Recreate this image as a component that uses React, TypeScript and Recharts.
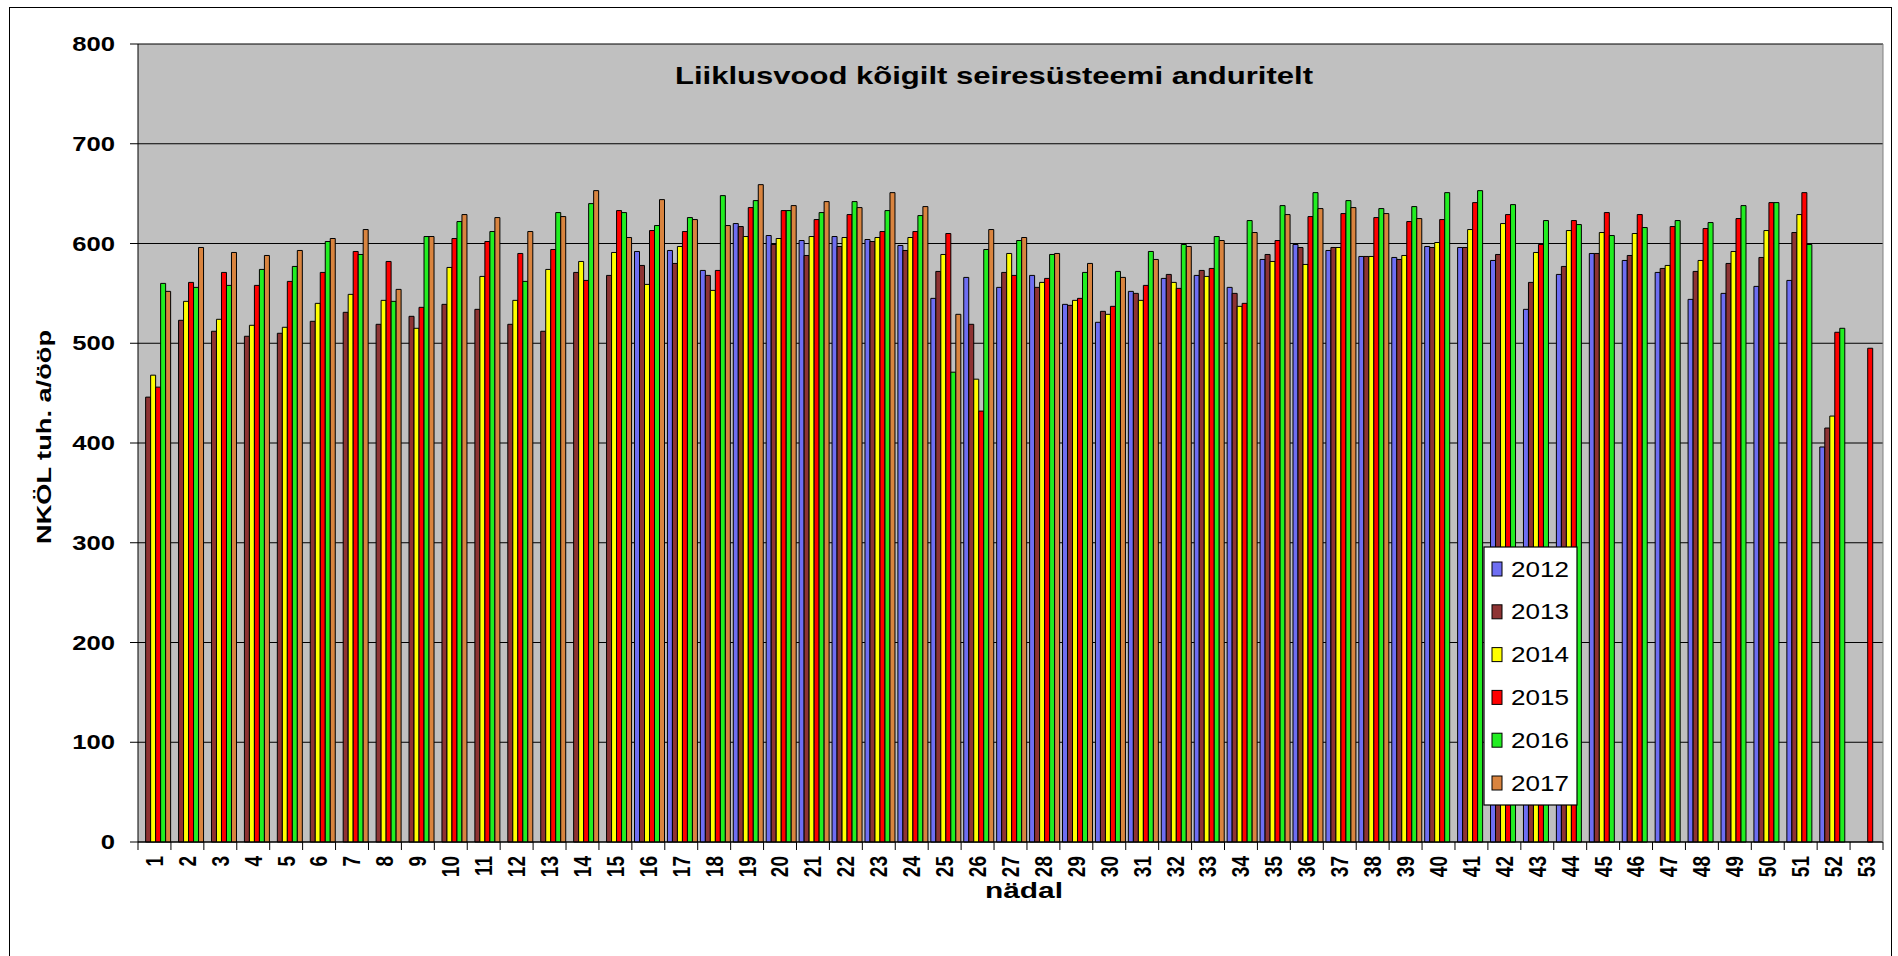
import { BarChart, Bar, XAxis, YAxis, CartesianGrid } from "recharts";

const weeks = [
  "1", "2", "3", "4", "5", "6", "7", "8", "9", "10", "11", "12", "13", "14", "15", "16", "17", "18",
  "19", "20", "21", "22", "23", "24", "25", "26", "27", "28", "29", "30", "31", "32", "33", "34", "35", "36",
  "37", "38", "39", "40", "41", "42", "43", "44", "45", "46", "47", "48", "49", "50", "51", "52", "53",
];

const y2012 = [
  null, null, null, null, null, null, null, null, null, null, null, null, null, null, null, 592, 593, 573,
  620, 608, 603, 607, 604, 598, 545, 566, 556, 568, 539, 521, 552, 565, 568, 556, 584, 599,
  593, 587, 586, 597, 596, 583, 534, 569, 590, 583, 571, 544, 550, 557, 563, 396, null,
];
const y2013 = [
  446, 523, 512, 507, 510, 522, 531, 519, 527, 539, 534, 519, 512, 571, 568, 578, 580, 568,
  617, 599, 588, 597, 602, 593, 572, 519, 571, 556, 538, 532, 550, 569, 573, 550, 589, 596,
  596, 587, 584, 596, 596, 589, 561, 577, 590, 588, 575, 572, 580, 586, 611, 415, null,
];
const y2014 = [
  468, 542, 524, 518, 516, 540, 549, 543, 515, 576, 567, 543, 574, 582, 591, 559, 597, 553,
  607, 605, 607, 606, 606, 606, 589, 464, 590, 561, 543, 529, 543, 561, 567, 537, 582, 579,
  596, 587, 588, 601, 614, 620, 591, 613, 611, 610, 578, 583, 592, 613, 629, 427, null,
];
const y2015 = [
  456, 561, 571, 558, 562, 571, 592, 582, 536, 605, 602, 590, 594, 563, 633, 613, 612, 573,
  636, 633, 624, 629, 612, 612, 610, 432, 568, 565, 545, 537, 558, 555, 575, 540, 603, 627,
  630, 626, 622, 624, 641, 629, 599, 623, 631, 629, 617, 615, 625, 641, 651, 511, 495,
];
const y2016 = [
  560, 556, 558, 574, 577, 602, 589, 542, 607, 622, 612, 562, 631, 640, 631, 618, 626, 648,
  643, 633, 631, 642, 633, 628, 471, 594, 603, 589, 571, 572, 592, 599, 607, 623, 638, 651,
  643, 635, 637, 651, 653, 639, 623, 619, 608, 616, 623, 621, 638, 641, 599, 515, null,
];
const y2017 = [
  552, 596, 591, 588, 593, 605, 614, 554, 607, 629, 626, 612, 627, 653, 606, 644, 624, 618,
  659, 638, 642, 636, 651, 637, 529, 614, 606, 590, 580, 566, 584, 597, 603, 611, 629, 635,
  636, 630, 625, null, null, null, null, null, null, null, null, null, null, null, null, null, null,
];

const yTicks = [0, 100, 200, 300, 400, 500, 600, 700, 800];

const SERIES = [
  { key: "y2012", name: "2012", color: "#6E6EF2", values: y2012 },
  { key: "y2013", name: "2013", color: "#8E3333", values: y2013 },
  { key: "y2014", name: "2014", color: "#FFFF00", values: y2014 },
  { key: "y2015", name: "2015", color: "#FF0000", values: y2015 },
  { key: "y2016", name: "2016", color: "#22EE22", values: y2016 },
  { key: "y2017", name: "2017", color: "#D9843F", values: y2017 },
];

const data = weeks.map((w, i) => {
  const row: Record<string, any> = { week: w };
  SERIES.forEach((s) => (row[s.key] = s.values[i]));
  return row;
});

const W = 1898;
const H = 956;
const PLOT_L = 138;
const PLOT_R = 1883;
const PLOT_T = 44;
const PLOT_B = 842;
const BAND = (PLOT_R - PLOT_L) / weeks.length;
const FONT = "'Liberation Sans', Arial, sans-serif";

function YTick(props: any) {
  const { x, y, payload } = props;
  return (
    <text
      transform={`translate(${x},${y}) scale(1.25,1)`}
      textAnchor="end"
      dominantBaseline="central"
      fontFamily={FONT}
      fontWeight="bold"
      fontSize={20.5}
      fill="#000"
    >
      {payload.value}
    </text>
  );
}

function WeekTick(props: any) {
  const { x, y, payload, index } = props;
  const left = x - BAND / 2;
  return (
    <g>
      <line x1={left} y1={y} x2={left} y2={y + 8} stroke="#000" />
      {index === weeks.length - 1 && (
        <line x1={x + BAND / 2} y1={y} x2={x + BAND / 2} y2={y + 8} stroke="#000" />
      )}
      <text
        transform={`translate(${x},${y + 14}) scale(1.3,1) rotate(-90)`}
        textAnchor="end"
        dominantBaseline="central"
        fontFamily={FONT}
        fontWeight="bold"
        fontSize={19}
        fill="#000"
      >
        {payload.value}
      </text>
    </g>
  );
}

export default function App() {
  return (
    <div style={{ position: "absolute", left: 0, top: 0, width: W, height: H, background: "#fff", overflow: "hidden" }}>
      <div
        style={{
          position: "absolute",
          left: 9,
          top: 7,
          width: 1883,
          height: 980,
          border: "1.5px solid #000",
          boxSizing: "border-box",
        }}
      />
      <div style={{ position: "absolute", left: 0, top: 0 }}>
        <BarChart
          width={W}
          height={H}
          data={data}
          margin={{ top: PLOT_T, right: W - PLOT_R, bottom: H - PLOT_B - 60, left: 0 }}
          barGap={0}
          barCategoryGap="8%"
        >
          <CartesianGrid vertical={false} stroke="#000" strokeWidth={1.2} fill="#C0C0C0" fillOpacity={1} />
          <XAxis
            dataKey="week"
            interval={0}
            height={60}
            tickSize={0}
            tickMargin={0}
            tickLine={false}
            axisLine={{ stroke: "#000" }}
            tick={<WeekTick />}
          />
          <YAxis
            domain={[0, 800]}
            ticks={yTicks}
            interval={0}
            width={PLOT_L}
            tickSize={8}
            tickMargin={15}
            axisLine={{ stroke: "#000" }}
            tickLine={{ stroke: "#000" }}
            tick={<YTick />}
          />
          {SERIES.map((s) => (
            <Bar
              key={s.key}
              dataKey={s.key}
              name={s.name}
              fill={s.color}
              stroke="#000"
              strokeWidth={1}
              isAnimationActive={false}
            />
          ))}
        </BarChart>
      </div>
      <svg
        width={W}
        height={H}
        style={{ position: "absolute", left: 0, top: 0, pointerEvents: "none" }}
      >
        <line x1={PLOT_R} y1={PLOT_T} x2={PLOT_R} y2={PLOT_B} stroke="#808080" />
        <text
          x={994}
          y={75}
          textAnchor="middle"
          dominantBaseline="central"
          fontFamily={FONT}
          fontWeight="bold"
          fontSize={24}
          textLength={638}
          lengthAdjust="spacingAndGlyphs"
        >
          Liiklusvood kõigilt seiresüsteemi anduritelt
        </text>
        <text
          transform="translate(43,437) rotate(-90)"
          textAnchor="middle"
          dominantBaseline="central"
          fontFamily={FONT}
          fontWeight="bold"
          fontSize={21}
          textLength={214}
          lengthAdjust="spacingAndGlyphs"
        >
          NKÖL tuh. a/ööp
        </text>
        <text
          x={1024}
          y={890}
          textAnchor="middle"
          dominantBaseline="central"
          fontFamily={FONT}
          fontWeight="bold"
          fontSize={22}
          textLength={78}
          lengthAdjust="spacingAndGlyphs"
        >
          nädal
        </text>
        <rect x={1484} y={547} width={93} height={258} fill="#fff" stroke="#000" strokeWidth={1.2} />
        {SERIES.map((s, i) => (
          <g key={s.key}>
            <rect x={1492} y={569 + i * 42.8 - 7} width={10} height={14} fill={s.color} stroke="#000" />
            <text
              x={1511}
              y={569 + i * 42.8}
              dominantBaseline="central"
              fontFamily={FONT}
              fontSize={22}
              textLength={58}
              lengthAdjust="spacingAndGlyphs"
            >
              {s.name}
            </text>
          </g>
        ))}
      </svg>
    </div>
  );
}
